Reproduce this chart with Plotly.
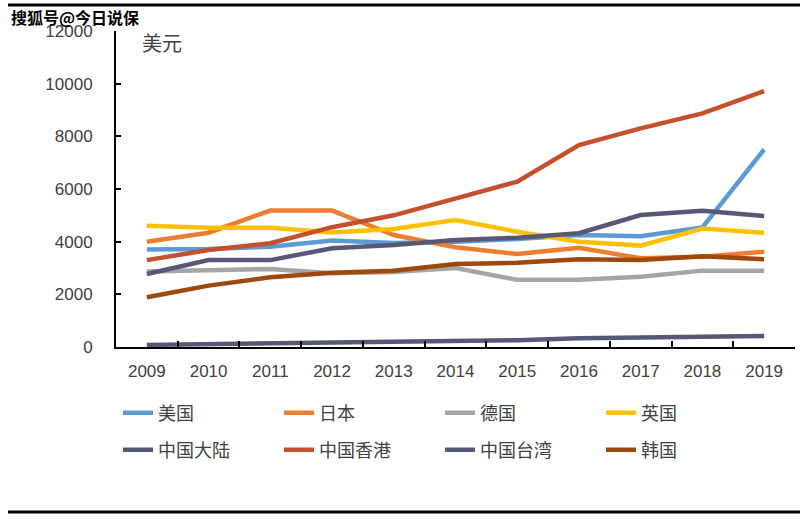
import plotly.graph_objects as go

years = ["2009", "2010", "2011", "2012", "2013", "2014", "2015", "2016", "2017", "2018", "2019"]

usa = [3700, 3720, 3810, 4040, 3950, 4000, 4100, 4250, 4210, 4540, 7500]
japan = [4000, 4340, 5180, 5180, 4250, 3790, 3530, 3770, 3370, 3430, 3620]
germany = [2870, 2920, 2960, 2800, 2850, 3000, 2550, 2550, 2670, 2900, 2900]
uk = [4600, 4530, 4530, 4350, 4480, 4820, 4380, 4000, 3850, 4500, 4340]
mainland = [2770, 3300, 3300, 3750, 3870, 4060, 4150, 4320, 5010, 5170, 4970]
hongkong = [3300, 3680, 3940, 4550, 5000, 5650, 6280, 7670, 8300, 8870, 9720]
taiwan = [80, 110, 120, 150, 170, 200, 260, 330, 370, 380, 420]
korea = [1890, 2330, 2650, 2820, 2900, 3150, 3200, 3330, 3300, 3450, 3330]

names = ["美国", "日本", "德国", "英国", "中国大陆", "中国香港", "中国台湾", "韩国"]
series = [usa, japan, germany, uk, mainland, hongkong, taiwan, korea]
colors = ["#5B9BD5", "#ED7D31", "#A5A5A5", "#FFC000", "#575877", "#C4502D", "#575877", "#9E480E"]
legends = ["legend", "legend", "legend", "legend", "legend2", "legend2", "legend2", "legend2"]

y_ticks = [0, 2000, 4000, 6000, 8000, 10000, 12000]

TXT = "#404040"
FONT = "Liberation Sans, Noto Sans CJK SC, sans-serif"
CJK = "Noto Sans CJK SC, sans-serif"

fig = go.Figure()
for name, vals, col, lg in zip(names, series, colors, legends):
    fig.add_trace(go.Scatter(
        x=years, y=vals, name=name, mode="lines",
        line=dict(color=col, width=4.5),
        legend=lg,
    ))

W, H = 803, 520
L, R, T, B = 116, 8, 31, 173
pw = W - L - R
ph = H - T - B

def px(x):
    return (x - L) / pw

def py(y):
    return (H - B - y) / ph

leg_common = dict(
    orientation="h",
    entrywidth=116, entrywidthmode="pixels",
    itemwidth=30,
    font=dict(family=CJK, size=18, color=TXT),
    bgcolor="rgba(0,0,0,0)",
    xref="container", yref="container",
    xanchor="left", yanchor="middle",
    traceorder="normal",
)

fig.update_layout(
    width=W, height=H,
    margin=dict(l=L, r=R, t=T, b=B, autoexpand=False),
    paper_bgcolor="white", plot_bgcolor="white",
    font=dict(family=FONT, color=TXT),
    legend=dict(x=118 / W, y=1 - 413 / H, **leg_common),
    legend2=dict(x=118 / W, y=1 - 450 / H, **leg_common),
    xaxis=dict(
        type="category", range=[-0.5, 10.5],
        tickson="boundaries", ticks="inside", ticklen=6, tickcolor="black", tickwidth=1.5,
        showline=True, linecolor="black", linewidth=1.5,
        showgrid=False, zeroline=False,
        tickfont=dict(size=17, color=TXT, family=FONT),
        ticklabelstandoff=8,
    ),
    yaxis=dict(
        range=[0, 12000], tickvals=y_ticks,
        ticktext=[str(v) for v in y_ticks],
        ticks="inside", ticklen=5, tickcolor="black", tickwidth=2,
        showline=True, linecolor="black", linewidth=2,
        showgrid=False, zeroline=False,
        tickfont=dict(size=17, color=TXT, family=FONT),
        ticklabelstandoff=18,
    ),
    showlegend=True,
)

fig.add_annotation(
    text="美元", xref="paper", yref="paper", x=px(140), y=py(43),
    xanchor="left", yanchor="middle", showarrow=False,
    font=dict(family=CJK, size=20, color=TXT),
)
fig.add_annotation(
    text="搜狐号@今日说保", xref="paper", yref="paper", x=px(9), y=py(17),
    xanchor="left", yanchor="middle", showarrow=False,
    font=dict(family=CJK, size=16, color="black", weight="bold"),
)
fig.add_shape(type="line", xref="paper", yref="paper", layer="above",
              x0=px(8), x1=px(800), y0=py(5), y1=py(5),
              line=dict(color="black", width=3))
fig.add_shape(type="line", xref="paper", yref="paper",
              x0=px(8), x1=px(800), y0=py(512), y1=py(512),
              line=dict(color="black", width=3))

fig.write_html(
    "out.html",
    config={"displayModeBar": False},
    post_script="document.body.style.margin='0';document.body.style.overflow='hidden';",
)
